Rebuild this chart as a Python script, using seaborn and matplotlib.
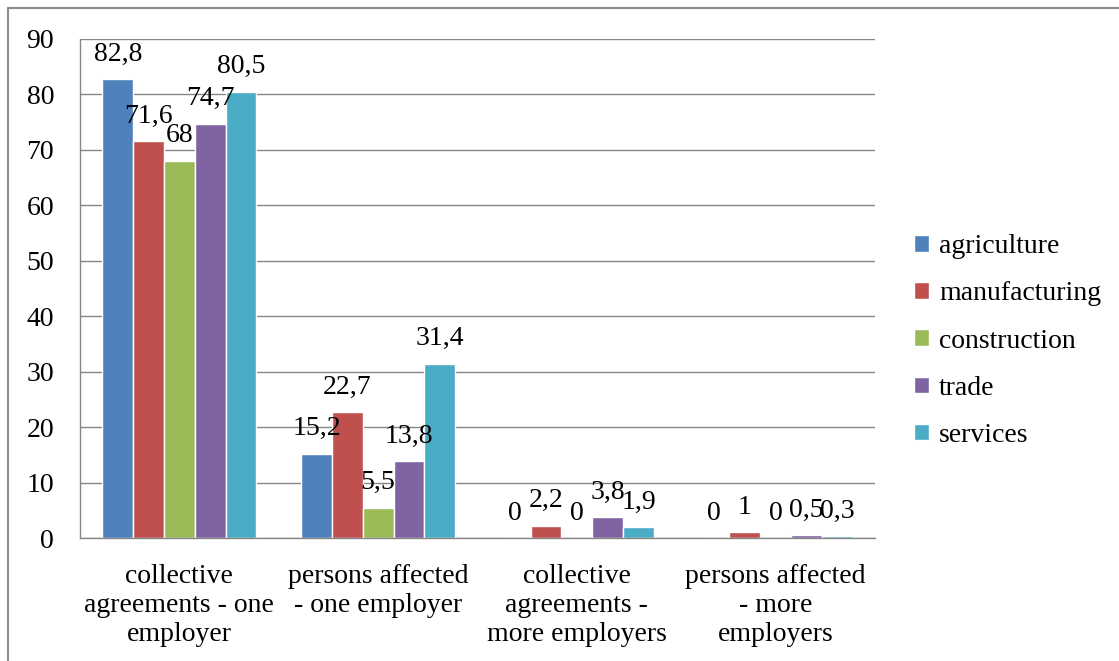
import matplotlib
matplotlib.use("Agg")
import matplotlib.pyplot as plt
import matplotlib.patches as mpatches
import seaborn as sns
import pandas as pd

categories = [
    "collective\nagreements - one\nemployer",
    "persons affected\n- one employer",
    "collective\nagreements -\nmore employers",
    "persons affected\n- more\nemployers",
]
sectors = ["agriculture", "manufacturing", "construction", "trade", "services"]
agriculture = [82.8, 15.2, 0, 0]
manufacturing = [71.6, 22.7, 2.2, 1]
construction = [68, 5.5, 0, 0]
trade = [74.7, 13.8, 3.8, 0.5]
services = [80.5, 31.4, 1.9, 0.3]
colors = ["#4F81BD", "#C0504D", "#9BBB59", "#8064A2", "#4BACC6"]
y_ticks = [0, 10, 20, 30, 40, 50, 60, 70, 80, 90]

series = dict(zip(sectors, [agriculture, manufacturing, construction, trade, services]))
rows = []
for sec, vals in series.items():
    for cat, v in zip(categories, vals):
        rows.append({"category": cat, "sector": sec, "value": v})
df = pd.DataFrame(rows)

sns.set_style("white")
plt.rcParams["font.family"] = ["Liberation Serif", "DejaVu Serif"]
plt.rcParams["text.color"] = "black"
plt.rcParams["xtick.color"] = "black"
plt.rcParams["ytick.color"] = "black"

FS = 20
PX = 72 / 100  # points per pixel at 100 dpi

fig = plt.figure(figsize=(11.19, 6.61), dpi=100)
W, H = 1119, 661
ax = fig.add_axes([80 / W, 1 - 538 / H, (875 - 80) / W, (538 - 39) / H])

sns.barplot(data=df, x="category", y="value", hue="sector", order=categories,
            hue_order=sectors, palette=colors, width=0.775, gap=0,
            saturation=1, ax=ax, legend=False, errorbar=None)

def fmt(v):
    s = f"{v:g}"
    return s.replace(".", ",")

for cont in ax.containers:
    ax.bar_label(cont, labels=[fmt(b.get_height()) for b in cont],
                 padding=9, fontsize=FS)

ax.set_ylim(0, 90)
ax.set_yticks(y_ticks)
ax.set_xlim(-0.5, len(categories) - 0.5)
ax.set_xlabel("")
ax.set_ylabel("")
ax.yaxis.grid(True, color="#868686", linewidth=1)
ax.set_axisbelow(True)
for s in ["top", "right"]:
    ax.spines[s].set_visible(False)
for s in ["left", "bottom"]:
    ax.spines[s].set_color("#868686")
    ax.spines[s].set_linewidth(1)

ax.set_xticks([i - 0.5 for i in range(len(categories) + 1)], minor=True)
ax.tick_params(axis="x", which="minor", length=8 * PX, color="#868686", width=1)
ax.tick_params(axis="x", which="major", length=0, pad=18 * PX + 8 * PX, labelsize=FS)
ax.tick_params(axis="y", length=8 * PX, color="#868686", width=1, pad=18 * PX, labelsize=FS)
for lbl in ax.get_xticklabels():
    lbl.set_linespacing(1.22)
    lbl.set_horizontalalignment("center")

handles = [mpatches.Patch(facecolor=c, label=s) for c, s in zip(colors, sectors)]
fig.legend(handles=handles, loc="center left", bbox_to_anchor=(914 / W, 1 - 341 / H),
           frameon=False, fontsize=FS, handlelength=0.55, handleheight=0.55,
           handletextpad=0.35, labelspacing=0.8, borderaxespad=0, borderpad=0)

frame = mpatches.Rectangle((8 / W, -0.1), 1.2, 1 - 8 / H + 0.1, transform=fig.transFigure,
                           fill=False, edgecolor="#8C8C8C", linewidth=1.5)
fig.patches.append(frame)

fig.savefig("out.png", dpi=100, facecolor="white")
